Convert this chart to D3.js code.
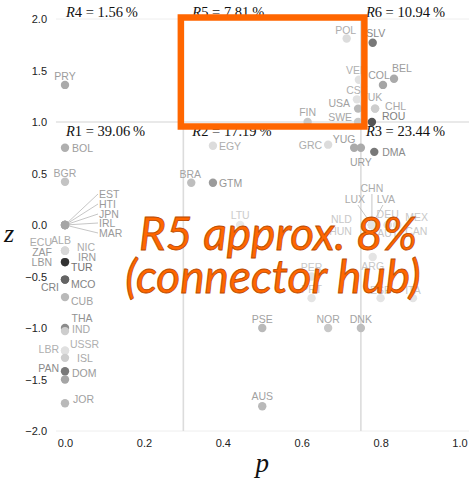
<!DOCTYPE html>
<html><head><meta charset="utf-8">
<script src="https://cdn.jsdelivr.net/npm/d3@7"></script>
<style>html,body{margin:0;padding:0;background:#fff;}</style>
</head><body>
<script>
// ---- data ----
const countries = ["PRY","BOL","BGR","EST","HTI","JPN","IRL","MAR","ECU","ALB","NIC","ZAF","IRN","LBN","TUR","CRI","MCO","CUB","THA","IND","USSR","LBR","ISL","PAN","DOM","JOR",
  "EGY","BRA","GTM","LTU","PER","PRT","PSE","AUS","NOR","DNK",
  "FIN","POL","SLV","VEN","COL","BEL","CSK","USA","UK","CHL","SWE","ROU",
  "GRC","YUG","URY","DMA","CHN","LUX","LVA","NLD","HUN","DEU","AUT","MEX","CAN","ARG","ESP","ITA"];
const pValues = [0,0,0,0,0,0,0,0,0,0,0,0,0,0,0,0,0,0,0,0,0,0,0,0,0,0,
  0.375,0.32,0.375,0.444,0.625,0.625,0.5,0.5,0.667,0.75,
  0.615,0.714,0.78,0.745,0.806,0.834,0.74,0.743,0.786,0.786,0.743,0.778,
  0.667,0.733,0.75,0.784,0.778,0.778,0.778,0.778,0.778,0.818,0.818,0.842,0.842,0.78,0.80,0.882];
const zValues = [1.36,0.75,0.42,0,0,0,0,0,-0.25,-0.25,-0.25,-0.36,-0.36,-0.36,-0.36,-0.53,-0.53,-0.70,-1.0,-1.03,-1.22,-1.22,-1.29,-1.42,-1.50,-1.73,
  0.77,0.41,0.41,0.0,-0.50,-0.71,-1.0,-1.76,-1.0,-1.0,
  1.0,1.81,1.77,1.41,1.36,1.42,1.22,1.13,1.13,1.13,1.0,1.0,
  0.78,0.75,0.75,0.71,0,0,0,0,0,0,0,0,0,-0.31,-0.71,-0.71];
const shades = [170,175,195,165,165,165,165,165,215,215,215,160,160,160,50,100,100,185,140,205,224,224,205,120,165,185,
  220,190,155,232,228,228,185,185,200,190,
  200,220,120,225,165,170,225,185,205,205,200,85,
  220,170,170,120,215,215,215,228,228,226,226,228,228,228,228,228];
const xTicks = [0,0.2,0.4,0.6,0.8,1.0];
const yTicks = [2.0,1.5,1.0,0.5,0.0,-0.5,-1.0,-1.5,-2.0];
const pBounds = [0.3,0.75];
const zBound = 1.0;
const regionNames = ["R4","R5","R6","R1","R2","R3"];
const regionShares = ["1.56","7.81","10.94","39.06","17.19","23.44"];
const annotationLines = ["R5 approx. 8%","(connector hub)"];

// ---- layout (label offsets relative to point, px) ----
const labelLayout = {
  PRY:[0,-9,"middle"],BOL:[7,0,"start"],BGR:[0,-9,"middle"],
  EST:[34,-31,"start",1],HTI:[34,-21,"start",1],JPN:[34,-11,"start",1],IRL:[34,-2,"start",1],MAR:[34,8,"start",1],
  ECU:[-13,-9,"end"],ALB:[-4,-11,"middle"],NIC:[12,-4,"start"],ZAF:[-13,-10,"end"],IRN:[13,-5,"start"],
  LBN:[-13,0,"end"],TUR:[6,5,"start"],CRI:[-6,7,"end"],MCO:[6,4,"start"],CUB:[6,4,"start"],
  THA:[17,-10,"middle"],IND:[7,-2,"start"],USSR:[5,-7,"start"],LBR:[-6,-2,"end"],ISL:[12,0,"start"],
  PAN:[-6,-3,"end"],DOM:[7,-7,"start"],JOR:[8,-4,"start"],
  EGY:[6,0,"start"],BRA:[-1,-9,"middle"],GTM:[6,0,"start"],LTU:[0,-10,"middle"],PER:[0,-10,"middle"],
  PRT:[0,-9,"middle"],PSE:[0,-9,"middle"],AUS:[0,-10,"middle"],NOR:[0,-9,"middle"],DNK:[0,-9,"middle"],
  FIN:[0,-10,"middle"],POL:[-1,-9,"middle"],SLV:[3,-10,"middle"],VEN:[-2,-10,"middle"],COL:[-4,-10,"middle"],
  BEL:[8,-11,"middle"],CSK:[0,-9,"middle"],USA:[-8,-6,"end"],UK:[0,-12,"middle"],CHL:[10,-3,"start"],
  SWE:[-6,-5,"end"],ROU:[10,-6,"start"],GRC:[-6,0,"end"],YUG:[-10,-9,"middle"],URY:[0,14,"middle"],
  DMA:[8,0,"start"],CHN:[0,-37,"middle",2],LUX:[-17,-26,"middle",2],LVA:[14,-26,"middle",2],
  NLD:[-20,-6,"end"],HUN:[-20,6,"end"],DEU:[0,-11,"middle"],AUT:[0,8,"middle"],
  MEX:[8,-8,"start"],CAN:[8,6,"start"],ARG:[0,9,"middle"],ESP:[0,-8,"middle"],ITA:[0,-8,"middle"]
};

const W = 469, H = 480;
const svg = d3.select("body").append("svg").attr("width", W).attr("height", H)
  .style("font-family","'Liberation Sans', Arial, sans-serif");

const x = d3.scaleLinear().domain([0,1]).range([65,459.5]);
const y = d3.scaleLinear().domain([-2,2]).range([431,19]);
const xPanel = [x(-0.023), W];

// grid lines
const grid = svg.append("g");
[2, zBound, -2].forEach(v => grid.append("line")
  .attr("x1", xPanel[0]).attr("x2", xPanel[1]).attr("y1", y(v)).attr("y2", y(v))
  .attr("stroke", v === zBound ? "#e2e2e2" : "#eeeeee").attr("stroke-width", v===zBound?1.5:1));
pBounds.forEach(v => grid.append("line")
  .attr("x1", x(v)).attr("x2", x(v)).attr("y1", y(2)).attr("y2", y(-2))
  .attr("stroke", "#dcdcdc").attr("stroke-width", 1.6));

// axes
const xAxis = d3.axisBottom(x).tickValues(xTicks).tickFormat(d3.format(".1f")).tickSize(0).tickPadding(8);
const yAxis = d3.axisLeft(y).tickValues(yTicks).tickFormat(d => d3.format(".1f")(d).replace("-","\u2212")).tickSize(0).tickPadding(10);
const gx = svg.append("g").attr("transform", `translate(0,${y(-2)})`).call(xAxis);
const gy = svg.append("g").attr("transform", `translate(${x(0)-8},0)`).call(yAxis);
[gx, gy].forEach(g => {
  g.select(".domain").remove();
  g.selectAll("text").attr("font-size", 11).attr("fill", "#222").attr("font-family","'Liberation Sans', Arial, sans-serif");
});

svg.append("text").attr("x", 9).attr("y", y(0)+17).attr("text-anchor","middle")
  .attr("font-family","'Liberation Serif', serif").attr("font-style","italic").attr("font-size",26).attr("fill","#111").text("z");
svg.append("text").attr("x", x(0.5)).attr("y", 472).attr("text-anchor","middle")
  .attr("font-family","'Liberation Serif', serif").attr("font-style","italic").attr("font-size",27).attr("fill","#111").text("p");

// region labels
const regionPos = [[x(0)+1, y(2)-2],[x(pBounds[0])+9, y(2)-2],[x(pBounds[1])+5, y(2)-2],
                   [x(0)+1, y(zBound)+14],[x(pBounds[0])+9, y(zBound)+14],[x(pBounds[1])+5, y(zBound)+14]];
regionNames.forEach((r,i) => {
  const t = svg.append("text").attr("x", regionPos[i][0]).attr("y", regionPos[i][1])
    .attr("font-family","'Liberation Serif', serif").attr("font-size",14.5).attr("fill","#111");
  t.append("tspan").attr("font-style","italic").text(r[0]);
  t.append("tspan").text(r.slice(1) + " = " + regionShares[i] + "\u2009%");
});

// data
const data = countries.map((c,i) => ({name:c, p:pValues[i], z:zValues[i], g:shades[i]}));
const grey = v => d3.rgb(v,v,v).toString();
const labelGrey = v => { const g = v >= 226 ? v - 28 : Math.round(0.35*v + 0.65*148); return d3.rgb(g,g,g).toString(); };

// leader lines
const lines = svg.append("g");
data.forEach(d => {
  const L = labelLayout[d.name]; if (!L || !L[3]) return;
  const px = x(d.p), py = y(d.z);
  let ex = px + L[0], ey = py + L[1];
  if (L[3] === 1) { ex -= 1; }
  else { ey += 6; if (L[0] < 0) ex += 3; else if (L[0] > 0) ex -= 3; }
  lines.append("line").attr("x1", px).attr("y1", py).attr("x2", ex).attr("y2", ey)
    .attr("stroke", "#b8b8b8").attr("stroke-width", 0.8);
});

// points
svg.append("g").selectAll("circle").data(data).join("circle")
  .attr("cx", d => x(d.p)).attr("cy", d => y(d.z)).attr("r", 4.2)
  .attr("fill", d => grey(d.g));

// labels
svg.append("g").selectAll("text").data(data).join("text")
  .attr("x", d => x(d.p) + labelLayout[d.name][0])
  .attr("y", d => y(d.z) + labelLayout[d.name][1])
  .attr("text-anchor", d => labelLayout[d.name][2])
  .attr("dominant-baseline", "central")
  .attr("font-size", 10.5).attr("fill", d => labelGrey(d.g))
  .text(d => d.name);

// highlight box around R5
const pad = 2.5;
svg.append("rect")
  .attr("x", x(pBounds[0]) - pad).attr("y", y(2) - pad + 1)
  .attr("width", x(pBounds[1]) - x(pBounds[0]) + 2*pad + 1)
  .attr("height", y(zBound) - y(2) + 2*pad + 1)
  .attr("fill","none").attr("stroke","#ff6600").attr("stroke-width",6.5);

// annotation
const ann = svg.append("g").attr("font-family","Lato, 'Open Sans', sans-serif")
  .attr("font-style","italic").attr("font-size",46).attr("fill","#ff6600")
  .attr("stroke","#b84a00").attr("stroke-width",0.8).attr("text-anchor","middle");
ann.append("text").attr("x", 278).attr("y", 250).text(annotationLines[0]);
ann.append("text").attr("x", 273).attr("y", 293).text(annotationLines[1]);
</script>
</body></html>
